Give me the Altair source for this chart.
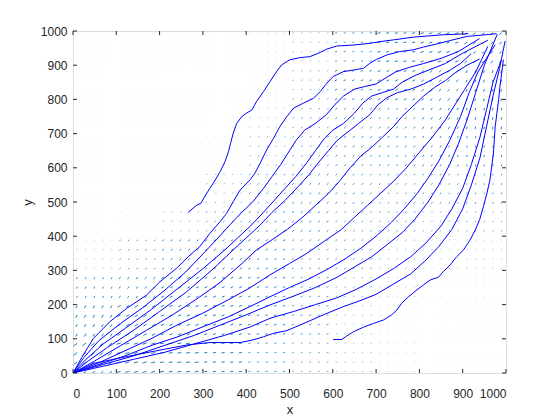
import altair as alt
import numpy as np
import pandas as pd

# ---------------- streamlines (data coordinates) ----------------
line_A = [(266,470),(286,491),(295,496),(309,526),(324,555),(340,589),(351,618),(359,647),(364,672),
          (370,701),(378,730),(390,750),(401,760),(413,769),(424,794),(440,823),(455,852),(470,881),
          (482,901),(501,916),(524,922),(547,925),(567,935),(586,947),(609,956),(648,959),(686,964),
          (709,969),(740,974),(786,982),(855,989),(913,992)]
line_B = [(0,0),(20,45),(47,101),(85,150),(124,189),(170,228),(201,267),(239,306),(266,340),(293,370),
          (316,408),(340,443),(355,467),(370,501),(386,535),(409,565),(420,584),(432,613),(447,652),
          (463,686),(478,721),(494,750),(509,774),(532,789),(555,803),(571,823),(586,847),(601,867),
          (624,881),(648,886),(671,891),(686,906),(701,917),(725,930),(755,940),(786,945),(809,953),
          (840,962),(871,972),(909,984),(978,992)]
line_C = [(0,0),(25,45),(60,95),(110,145),(160,190),(210,240),(260,295),(309,360),(335,395),(360,430),
          (390,470),(415,500),(440,540),(460,575),(480,610),(500,650),(515,680),(535,710),(560,730),
          (585,755),(605,785),(625,810),(650,830),(675,838),(700,845),(725,865),(745,880),(775,893),
          (810,905),(850,920),(890,940),(939,978)]
line_D = [(0,0),(30,40),(70,85),(120,130),(180,185),(240,245),(300,305),(351,360),(380,395),(410,430),
          (440,470),(465,505),(490,540),(515,575),(540,615),(560,650),(580,685),(600,710),(625,730),
          (650,760),(670,790),(690,810),(715,820),(740,830),(760,850),(790,870),(820,885),(860,905),
          (900,935),(958,973)]
line_E = [(0,0),(35,35),(80,75),(140,125),(200,180),(260,235),(320,300),(370,360),(400,395),(430,430),
          (460,470),(490,505),(520,545),(545,580),(570,620),(590,650),(610,680),(635,705),(660,730),
          (685,755),(705,785),(725,805),(750,820),(780,830),(810,845),(840,865),(870,885),(895,905),
          (919,933)]
line_F = [(0,0),(50,35),(110,80),(170,125),(230,170),(290,220),(340,265),(390,320),(424,360),(460,390),
          (495,420),(530,455),(560,490),(590,525),(615,560),(640,600),(665,635),(690,660),(715,690),
          (740,720),(760,750),(785,780),(810,810),(835,835),(860,855),(885,880),(910,900),(939,918)]
line_G = [(0,0),(60,30),(120,65),(180,100),(240,140),(300,175),(360,215),(410,250),(455,287),(500,320),
          (540,350),(580,385),(620,420),(650,455),(680,490),(710,525),(740,560),(770,600),(800,645),
          (830,690),(860,740),(880,780),(905,830),(930,880),(958,955)]
line_H = [(0,0),(60,25),(120,50),(180,80),(240,105),(300,135),(360,165),(410,195),(455,223),(500,250),
          (545,275),(590,305),(630,335),(665,365),(700,400),(735,440),(765,480),(795,525),(820,570),
          (845,620),(870,680),(895,750),(915,820),(935,880),(975,960)]
line_I = [(0,0),(70,25),(140,50),(210,80),(280,110),(340,140),(400,170),(455,199),(510,225),(560,250),
          (610,280),(650,310),(690,340),(725,375),(760,410),(790,450),(820,500),(845,550),(870,610),
          (890,670),(910,740),(930,820),(950,900),(980,991)]
line_J = [(0,0),(70,20),(140,40),(210,60),(280,85),(350,110),(410,135),(455,160),(510,180),(560,200),
          (610,220),(655,245),(700,275),(740,305),(780,340),(815,380),(850,430),(875,480),(900,540),
          (920,610),(940,690),(955,770),(970,850),(989,914)]
line_K = [(0,0),(47,28),(124,48),(201,67),(263,82),(316,89),(386,89),(417,97),(440,106),(463,116),
          (494,124),(524,140),(578,170),(624,194),(660,210),(700,230),(740,260),(780,290),(815,330),
          (845,370),(875,420),(900,480),(920,550),(940,630),(955,720),(970,810),(985,890),(998,971)]
line_R = [(601,98),(621,98),(632,108),(648,121),(671,134),(694,145),(717,155),(736,170),(748,184),
          (759,204),(775,223),(794,243),(809,257),(825,272),(844,280),(855,296),(871,316),(886,340),
          (902,360),(917,389),(929,418),(939,448),(948,487),(956,526),(963,565),(967,604),(971,643),
          (973,682),(975,720),(979,760),(983,799),(986,838),(990,877),(994,916)]

streams = {"A": line_A, "B": line_B, "C": line_C, "D": line_D, "E": line_E, "F": line_F,
           "G": line_G, "H": line_H, "I": line_I, "J": line_J, "K": line_K, "R": line_R}

# ---------------- quiver field: coarse readings (rows: y = 50..950, cols: x = 50..950) ----------------
angle_table = [
    [45, 20, 12, 10, 10, 10, 15, 20, 30, 70],
    [65, 35, 25, 20, 20, 22, 25, 35, 50, 80],
    [75, 50, 35, 30, 28, 30, 35, 45, 55, 82],
    [80, 60, 45, 38, 35, 38, 42, 50, 60, 82],
    [80, 65, 55, 50, 45, 45, 48, 55, 62, 84],
    [80, 70, 60, 55, 52, 50, 52, 58, 65, 85],
    [80, 70, 65, 62, 58, 55, 55, 58, 65, 85],
    [80, 70, 65, 60, 60, 55, 50, 55, 62, 80],
    [70, 60, 50, 45, 40, 35, 30, 35, 50, 75],
    [30, 20, 15, 10, 10, 10, 10, 12, 20, 45],
]
mag_table = [
    [12, 10, 9, 7, 5, 4, 3, 2, 1, 1],
    [9, 9, 8, 7, 6, 5, 3, 2, 1, 1],
    [6, 7, 7, 7, 6, 5, 4, 3, 2, 2],
    [3, 5, 6, 6, 6, 5, 5, 4, 3, 3],
    [1, 2, 4, 5, 6, 6, 5, 5, 4, 4],
    [1, 1, 2, 4, 5, 6, 6, 5, 5, 5],
    [1, 1, 1, 2, 4, 5, 6, 6, 6, 6],
    [1, 1, 1, 1, 3, 5, 6, 6, 7, 7],
    [1, 1, 1, 1, 2, 4, 6, 7, 8, 8],
    [1, 1, 1, 1, 2, 3, 5, 7, 8, 8],
]
grid_x = np.arange(10, 1000, 20)
grid_y = np.arange(5, 1000, 27.5)

x_ticks = [0, 100, 200, 300, 400, 500, 600, 700, 800, 900, 1000]
y_ticks = [0, 100, 200, 300, 400, 500, 600, 700, 800, 900, 1000]

# ---------------- build tables ----------------
srows = []
for name, pts in streams.items():
    for i, (x, y) in enumerate(pts):
        srows.append({"line": name, "i": i, "x": x, "y": y})
stream_df = pd.DataFrame(srows)

qrows = []
for gy in grid_y:
    for gx in grid_x:
        r = min(int(gy // 100), 9)
        c = min(int(gx // 100), 9)
        a = np.deg2rad(angle_table[r][c])
        m = mag_table[r][c]
        qrows.append({"x": gx, "y": gy, "x2": gx - m * np.cos(a), "y2": gy - m * np.sin(a),
                      "op": min(0.9, 0.08 + 0.12 * m)})
quiver_df = pd.DataFrame(qrows)

W, H = 433, 342
FONT = "Liberation Sans"
AX = "#262626"

xs = alt.Scale(domain=[0, 1000], nice=False, zero=False)
ys = alt.Scale(domain=[0, 1000], nice=False, zero=False)

x_axis = alt.Axis(values=x_ticks, format="d", labelOverlap=False, grid=False, ticks=False,
                  domain=False, tickSize=0,
                  labelFont=FONT, labelFontSize=12, labelColor=AX, labelPadding=15,
                  title="x", titleFont=FONT, titleFontSize=13, titleFontWeight="normal",
                  titleColor=AX, titleX=W / 2, titleY=36, titleBaseline="middle", titleAlign="center")
y_axis = alt.Axis(values=y_ticks, format="d", labelOverlap=False, grid=False, ticks=False,
                  domain=False, tickSize=0,
                  labelFont=FONT, labelFontSize=12, labelColor=AX, labelPadding=6,
                  title="y", titleFont=FONT, titleFontSize=13, titleFontWeight="normal",
                  titleColor=AX, titleX=-46, titleY=H / 2, titleAngle=-90,
                  titleBaseline="middle", titleAlign="center")

quiver = alt.Chart(quiver_df).mark_rule(color="#0072BD", strokeWidth=1, clip=True).encode(
    x=alt.X("x:Q", scale=xs, axis=x_axis),
    y=alt.Y("y:Q", scale=ys, axis=y_axis),
    x2="x2:Q", y2="y2:Q",
    opacity=alt.Opacity("op:Q", scale=None, legend=None),
)

lines = alt.Chart(stream_df).mark_line(color="#0000FF", strokeWidth=1, clip=True).encode(
    x=alt.X("x:Q", scale=xs, axis=x_axis), y=alt.Y("y:Q", scale=ys, axis=y_axis),
    detail="line:N", order="i:Q",
)

xt_df = pd.DataFrame({"t": x_ticks})
yt_df = pd.DataFrame({"t": y_ticks})
tick_b = alt.Chart(xt_df).mark_rule(color=AX, strokeWidth=1).encode(
    x=alt.X("t:Q", scale=xs, axis=x_axis), y=alt.value(H), y2=alt.value(H - 4))
tick_t = alt.Chart(xt_df).mark_rule(color=AX, strokeWidth=1).encode(
    x=alt.X("t:Q", scale=xs, axis=x_axis), y=alt.value(0), y2=alt.value(4))
tick_l = alt.Chart(yt_df).mark_rule(color=AX, strokeWidth=1).encode(
    y=alt.Y("t:Q", scale=ys, axis=y_axis), x=alt.value(0), x2=alt.value(4))
tick_r = alt.Chart(yt_df).mark_rule(color=AX, strokeWidth=1).encode(
    y=alt.Y("t:Q", scale=ys, axis=y_axis), x=alt.value(W), x2=alt.value(W - 4))

chart = alt.layer(quiver, lines, tick_b, tick_t, tick_l, tick_r).properties(
    width=W, height=H,
    autosize=alt.AutoSizeParams(type="none"),
    padding={"left": 65, "top": 23, "right": 30, "bottom": 50},
).configure_view(stroke=AX, strokeWidth=1).configure(background="white")

chart.save("out.html", embed_options={"renderer": "svg", "actions": False})
